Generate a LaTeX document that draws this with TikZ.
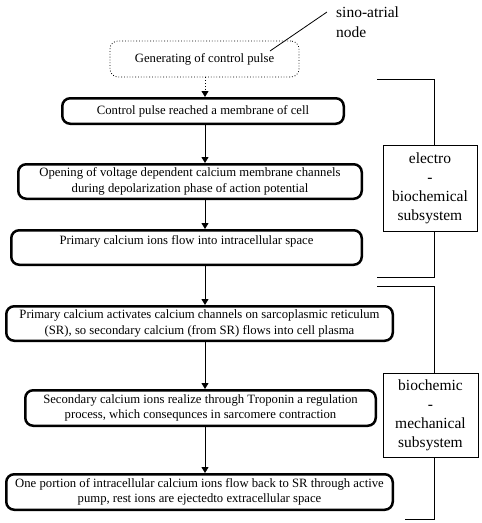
\documentclass[tikz,border=0pt]{standalone}
\usepackage{fontspec}
\setmainfont{Liberation Serif}
\usetikzlibrary{arrows.meta}
\tikzset{
  stepbox/.style={draw, line width=2.5pt, rounded corners=8pt, inner sep=0pt, align=center,
    font=\fontsize{12.7}{15.5}\selectfont},
  startbox/.style={draw, line width=0.8pt, dotted, rounded corners=8pt, inner sep=0pt, align=center,
    font=\fontsize{12.7}{15.5}\selectfont},
  labelbox/.style={draw, line width=0.8pt, inner sep=0pt, align=center,
    font=\fontsize{15.5}{19}\selectfont},
  flow/.style={line width=0.8pt, -{Triangle[length=6pt,width=7pt]}},
  brace/.style={line width=0.8pt},
}
\begin{document}
\begin{tikzpicture}[x=1pt,y=-1pt]
\useasboundingbox (0,0) rectangle (482,523);
\fill[white] (0,0) rectangle (482,523);

\coordinate (ax) at (205,0);
\coordinate (bx) at (434,0);

\node[startbox, minimum width=189pt, minimum height=36pt] (A) at (204.5,59) {Generating of control pulse};
\node[stepbox, minimum width=281.5pt, minimum height=25.5pt] (B) at (203,111) {Control pulse reached a membrane of cell};
\node[stepbox, minimum width=343.5pt, minimum height=34.5pt] (C) at (190,181.5) {Opening of voltage dependent calcium membrane channels\\during depolarization phase of action potential};
\node[stepbox, minimum width=350.5pt, minimum height=34.5pt] (D) at (186.5,247.5) {Primary calcium ions flow into intracellular space\\\mbox{}};
\node[stepbox, minimum width=386.5pt, minimum height=34.5pt] (E) at (199.5,323.5) {Primary calcium activates calcium channels on sarcoplasmic reticulum\\(SR), so secondary calcium (from SR) flows into cell plasma};
\node[stepbox, minimum width=350.5pt, minimum height=35.5pt] (F) at (200.5,408) {Secondary calcium ions realize through Troponin a regulation\\process, which consequnces in sarcomere contraction};
\node[stepbox, minimum width=386.5pt, minimum height=35.5pt] (G) at (199.5,492) {One portion of intracellular calcium ions flow back to SR through active\\pump, rest ions are ejectedto extracellular space};

\node[font=\fontsize{15.5}{20}\selectfont, align=left, anchor=west, inner sep=0pt] (SA) at (336,22) {sino-atrial\\node};
\coordinate (saend) at (270,51);
\draw[line width=0.8pt] (SA.west |- 0,12) ++(-9pt,0) coordinate (sastart) -- (saend);

\draw[flow, dotted] (A.south -| ax) -- (B.north -| ax);
\draw[flow] (B.south -| ax) -- (C.north -| ax);
\draw[flow] (C.south -| ax) -- (D.north -| ax);
\draw[flow] (D.south -| ax) -- (E.north -| ax);
\draw[flow] (E.south -| ax) -- (F.north -| ax);
\draw[flow] (F.south -| ax) -- (G.north -| ax);

\node[labelbox, minimum width=94pt, minimum height=86pt] (L1) at (430,188) {electro\\-\\biochemical\\subsystem};
\node[labelbox, minimum width=95pt, minimum height=84pt] (L2) at (430.5,415) {biochemic\\-\\mechanical\\subsystem};

\coordinate (t1) at (377,79);
\coordinate (b1) at (377,277);
\coordinate (t2) at (377,286);
\coordinate (b2) at (405,519);
\draw[brace] (t1) -- (t1 -| bx) -- (L1.north -| bx);
\draw[brace] (L1.south -| bx) -- (b1 -| bx) -- (b1);
\draw[brace] (t2) -- (t2 -| bx) -- (L2.north -| bx);
\draw[brace] (L2.south -| bx) -- (b2 -| bx) -- (b2);
\end{tikzpicture}
\end{document}
